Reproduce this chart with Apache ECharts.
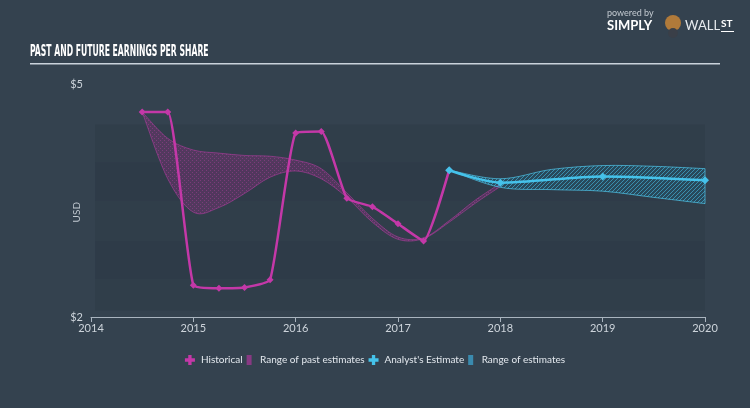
<!DOCTYPE html>
<html>
<head>
<meta charset="utf-8">
<script src="https://cdn.jsdelivr.net/npm/echarts@6/dist/echarts.min.js"></script>
<style>
html,body{margin:0;padding:0;background:#34424f;}
#c{width:750px;height:408px;}
</style>
</head>
<body>
<div id="c"></div>
<script>
// ---- data ----
var yearTicks = [2014, 2015, 2016, 2017, 2018, 2019, 2020];
var yTickLabels = {2: '$2', 5: '$5'};

var histYears = [2014.5, 2014.75, 2015.0, 2015.25, 2015.5, 2015.75, 2016.0, 2016.25, 2016.5, 2016.75, 2017.0, 2017.25, 2017.5];
var histValues = [4.64, 4.64, 2.41, 2.37, 2.38, 2.48, 4.37, 4.39, 3.53, 3.42, 3.20, 2.98, 3.89];

var pastRangeYears = [2014.5, 2014.75, 2015.0, 2015.25, 2015.5, 2015.75, 2016.0, 2016.25, 2016.5, 2016.75, 2017.0, 2017.25, 2017.5, 2017.75, 2018.0];
var pastRangeHigh = [4.64, 4.30, 4.15, 4.11, 4.08, 4.07, 4.02, 3.91, 3.60, 3.27, 3.03, 3.02, 3.24, 3.50, 3.72];
var pastRangeLow  = [4.64, 3.78, 3.35, 3.41, 3.59, 3.80, 3.88, 3.78, 3.54, 3.22, 3.00, 3.01, 3.22, 3.46, 3.68];

var estYears = [2017.5, 2018, 2019, 2020];
var estValues = [3.89, 3.73, 3.81, 3.76];

var estRangeYears = [2017.5, 2018, 2018.5, 2019, 2019.5, 2020];
var estRangeHigh = [3.89, 3.78, 3.90, 3.95, 3.94, 3.91];
var estRangeLow  = [3.89, 3.67, 3.64, 3.62, 3.54, 3.46];

var bandEdges = [2.08, 2.49, 2.98, 3.50, 3.99, 4.48];

// ---- helpers ----
function zip(xs, ys) { return xs.map(function (x, i) { return [x, ys[i]]; }); }

function makePattern(kind) {
  var c = document.createElement('canvas');
  c.width = 4; c.height = 4;
  var g = c.getContext('2d');
  if (kind === 'past') {
    g.fillStyle = 'rgba(135,50,125,0.40)';
    g.fillRect(0, 0, 4, 4);
    g.fillStyle = 'rgba(175,65,160,0.45)';
    g.fillRect(0, 0, 1, 1);
    g.fillRect(2, 2, 1, 1);
  } else {
    g.fillStyle = 'rgba(30,100,130,0.35)';
    g.fillRect(0, 0, 4, 4);
    g.strokeStyle = 'rgba(70,190,230,0.75)';
    g.lineWidth = 0.8;
    g.beginPath();
    g.moveTo(0, 4); g.lineTo(4, 0);
    g.moveTo(-1, 1); g.lineTo(1, -1);
    g.moveTo(3, 5); g.lineTo(5, 3);
    g.stroke();
  }
  return c;
}

function curveThrough(pts) {
  var s = '';
  for (var i = 0; i < pts.length - 1; i++) {
    var p0 = pts[i - 1] || pts[i], p1 = pts[i], p2 = pts[i + 1], p3 = pts[i + 2] || pts[i + 1];
    var c1x = p1[0] + (p2[0] - p0[0]) / 6, c1y = p1[1] + (p2[1] - p0[1]) / 6;
    var c2x = p2[0] - (p3[0] - p1[0]) / 6, c2y = p2[1] - (p3[1] - p1[1]) / 6;
    s += ' C' + c1x + ',' + c1y + ' ' + c2x + ',' + c2y + ' ' + p2[0] + ',' + p2[1];
  }
  return s;
}

function bandSeries(name, xs, hi, lo, fillKind, stroke, z) {
  var pattern = makePattern(fillKind);
  return {
    name: name, type: 'custom', z: z,
    data: [[xs[0], hi[0]]],
    itemStyle: { color: fillKind === 'past' ? 'rgba(150,55,140,0.85)' : 'rgba(60,150,190,0.85)' },
    renderItem: function (params, api) {
      var top = xs.map(function (x, i) { return api.coord([x, hi[i]]); });
      var bot = xs.map(function (x, i) { return api.coord([x, lo[i]]); }).reverse();
      var d = 'M' + top[0][0] + ',' + top[0][1] + curveThrough(top) +
              ' L' + bot[0][0] + ',' + bot[0][1] + curveThrough(bot) + ' Z';
      return {
        type: 'path',
        shape: { pathData: d },
        style: { fill: { image: pattern, repeat: 'repeat' }, stroke: stroke, lineWidth: 1 }
      };
    }
  };
}

var MAG = '#c438a8';
var CYAN = '#45c2ea';

var bandData = [];
for (var i = 0; i < bandEdges.length - 1; i++) {
  bandData.push([
    { yAxis: bandEdges[i], xAxis: 2014.04, itemStyle: { color: i % 2 === 0 ? 'rgba(20,30,42,0.10)' : 'rgba(20,30,42,0.18)' } },
    { yAxis: bandEdges[i + 1], xAxis: 2020.0 }
  ]);
}

var chart = echarts.init(document.getElementById('c'), null, { renderer: 'canvas' });

var plusIcon = 'path://M4,0 L8,0 L8,4 L12,4 L12,8 L8,8 L8,12 L4,12 L4,8 L0,8 L0,4 L4,4 Z';

chart.setOption({
  backgroundColor: '#34424f',
  animation: false,
  grid: { left: 91, right: 45, top: 84, bottom: 91, containLabel: false },
  xAxis: {
    type: 'value', min: 2014, max: 2020, interval: 1,
    axisLine: { show: true, lineStyle: { color: '#a9b4bf', width: 1 } },
    axisTick: { show: true, length: 5, lineStyle: { color: '#a9b4bf' } },
    axisLabel: { color: '#cdd4db', fontSize: 11, fontFamily: 'Lato, "Noto Sans", sans-serif', margin: 6,
      formatter: function (v) { return String(v); } },
    splitLine: { show: false }
  },
  yAxis: {
    type: 'value', min: 2, max: 5, interval: 3,
    axisLine: { show: false }, axisTick: { show: false },
    axisLabel: { color: '#cdd4db', fontSize: 11, fontFamily: 'Lato, "Noto Sans", sans-serif', margin: 8,
      formatter: function (v) { return yTickLabels[v] || ''; } },
    splitLine: { show: false }
  },
  legend: {
    left: 'center', top: 350,
    itemWidth: 12, itemHeight: 10, itemGap: 4,
    textStyle: { color: '#e3e8ee', fontSize: 10, fontFamily: 'Lato, "Noto Sans", sans-serif' },
    data: [
      { name: 'Historical', icon: plusIcon, itemStyle: { color: MAG } },
      { name: 'Range of past estimates', icon: 'path://M0,0 L5,0 L5,10 L0,10 Z', symbolKeepAspect: true, itemStyle: { color: 'rgba(150,55,140,0.85)' } },
      { name: "Analyst's Estimate", icon: plusIcon, itemStyle: { color: CYAN } },
      { name: 'Range of estimates', icon: 'path://M0,0 L5,0 L5,10 L0,10 Z', symbolKeepAspect: true, itemStyle: { color: 'rgba(60,150,190,0.85)' } }
    ],
    selectedMode: false
  },
  graphic: [
    { type: 'text', left: 30, top: 45, style: { text: 'PAST AND FUTURE EARNINGS PER SHARE', fill: '#ffffff',
        font: 'bold 15px "Liberation Sans Narrow", "DejaVu Sans Condensed", sans-serif' }, scaleX: 0.57 },
    { type: 'rect', shape: { x: 30, y: 63, width: 690, height: 1.5 }, style: { fill: '#c9d2db' } },
    { type: 'text', left: 72, top: 202, rotation: Math.PI / 2, originX: 0, originY: 0,
      style: { text: 'USD', fill: '#c0c8d0', font: '10px Lato, "Noto Sans", sans-serif', align: 'center', verticalAlign: 'middle' } },
    { type: 'text', left: 607, top: 9, style: { text: 'powered by', fill: '#c3cad1', font: '9px Lato, sans-serif' } },
    { type: 'text', left: 607, top: 19, style: { text: 'SIMPLY', fill: '#ffffff', font: 'bold 13px Lato, sans-serif' } },
    { type: 'circle', shape: { cx: 673, cy: 23, r: 8 }, style: { fill: '#b07a3a' } },
    { type: 'circle', shape: { cx: 673, cy: 33, r: 5 }, style: { fill: '#3a3f48' } },
    { type: 'text', left: 685, top: 19, style: { text: 'WALL', fill: '#e6eaee', font: '13px Lato, sans-serif' } },
    { type: 'text', left: 721, top: 19, style: { text: 'ST', fill: '#ffffff', font: 'bold 10px Lato, sans-serif' } },
    { type: 'rect', shape: { x: 721, y: 31, width: 13, height: 1 }, style: { fill: '#ffffff' } }
  ],
  series: [
    {
      name: 'bg', type: 'line', data: [], z: 0,
      markArea: { silent: true, data: bandData }
    },
    bandSeries('Range of past estimates', pastRangeYears, pastRangeHigh, pastRangeLow, 'past', 'rgba(185,60,165,0.55)', 2),
    bandSeries('Range of estimates', estRangeYears, estRangeHigh, estRangeLow, 'est', 'rgba(80,200,235,0.7)', 2),
    {
      name: 'Historical', type: 'line', smooth: 0.15, symbol: 'diamond', symbolSize: 7,
      data: zip(histYears, histValues),
      lineStyle: { color: MAG, width: 2.5 },
      itemStyle: { color: MAG },
      z: 5
    },
    {
      name: "Analyst's Estimate", type: 'line', smooth: 0.3, symbol: 'diamond', symbolSize: 8,
      data: zip(estYears, estValues),
      lineStyle: { color: CYAN, width: 2.5 },
      itemStyle: { color: CYAN },
      z: 6
    }
  ]
});
</script>
</body>
</html>
